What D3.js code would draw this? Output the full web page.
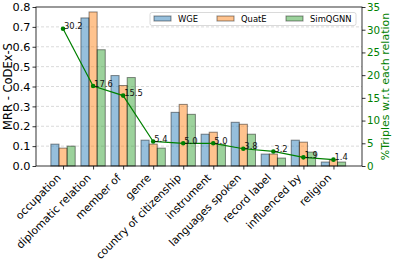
<!DOCTYPE html>
<html>
<head>
<meta charset="utf-8">
<script src="https://cdn.jsdelivr.net/npm/d3@7"></script>
<style>
  body { margin: 0; background: #fff; }
  svg { display: block; font-family: "DejaVu Sans", sans-serif; }
</style>
</head>
<body>
<div id="chart"></div>
<script>
// Relations (x axis)
const relations = ["occupation", "diplomatic relation", "member of", "genre",
  "country of citizenship", "instrument", "languages spoken", "record label",
  "influenced by", "religion"];

// MRR per model
const wge = [0.11, 0.745, 0.455, 0.13, 0.27, 0.16, 0.22, 0.06, 0.13, 0.02];
const quate = [0.09, 0.775, 0.405, 0.11, 0.31, 0.17, 0.21, 0.06, 0.12, 0.03];
const simqgnn = [0.10, 0.585, 0.445, 0.09, 0.26, 0.11, 0.16, 0.04, 0.07, 0.02];

// % of triples for each relation (right axis)
const triples = [30.2, 17.6, 15.5, 5.4, 5.0, 5.0, 3.8, 3.2, 1.9, 1.4];

const leftTicks = [0.0, 0.1, 0.2, 0.3, 0.4, 0.5, 0.6, 0.7, 0.8];
const rightTicks = [0, 5, 10, 15, 20, 25, 30, 35];

const models = [
  { name: "WGE", values: wge, color: "#1f77b4" },
  { name: "QuatE", values: quate, color: "#ff7f0e" },
  { name: "SimQGNN", values: simqgnn, color: "#2ca02c" }
];

// Layout
const width = 394;
const height = 262;
const plot_left = 36, plot_right = 362, plot_top = 7, plot_bottom = 166;
const bar_width = 0.27;
const tick_len = 3.5;

const x = d3.scaleLinear().domain([-0.9, 9.95]).range([plot_left, plot_right]);
const y = d3.scaleLinear().domain([0, 0.8]).range([plot_bottom, plot_top]);
const y2 = d3.scaleLinear().domain([0, 35]).range([plot_bottom, plot_top]);

const svg = d3.select("#chart").append("svg")
  .attr("width", width)
  .attr("height", height)
  .attr("viewBox", [0, 0, width, height]);

// Grid lines (left axis)
svg.append("g")
  .selectAll("line")
  .data(leftTicks.slice(1, -1))
  .join("line")
  .attr("x1", plot_left).attr("x2", plot_right)
  .attr("y1", d => y(d)).attr("y2", d => y(d))
  .attr("stroke", "#b0b0b0")
  .attr("stroke-opacity", 0.6)
  .attr("stroke-width", 0.8)
  .attr("stroke-dasharray", "3,2");

// Bars
models.forEach((m, k) => {
  svg.append("g")
    .selectAll("rect")
    .data(m.values)
    .join("rect")
    .attr("x", (d, i) => x(i + (k - 1) * bar_width - bar_width / 2))
    .attr("width", x(bar_width) - x(0))
    .attr("y", d => y(d))
    .attr("height", d => y(0) - y(d))
    .attr("fill", m.color)
    .attr("fill-opacity", 0.47)
    .attr("stroke", "#000")
    .attr("stroke-opacity", 0.45)
    .attr("stroke-width", 1);
});

// Frame
svg.append("rect")
  .attr("x", plot_left).attr("y", plot_top)
  .attr("width", plot_right - plot_left).attr("height", plot_bottom - plot_top)
  .attr("fill", "none")
  .attr("stroke", "#000")
  .attr("stroke-width", 0.8);

// Left axis
const yAxis = svg.append("g")
  .attr("transform", `translate(${plot_left},0)`)
  .call(d3.axisLeft(y).tickValues(leftTicks).tickFormat(d3.format(".1f"))
    .tickSize(tick_len).tickPadding(2));
yAxis.select(".domain").remove();
yAxis.selectAll("text").attr("font-size", 11.3).attr("fill", "#000")
  .attr("font-family", "DejaVu Sans");
yAxis.selectAll("line").attr("stroke-width", 0.8);

// Right axis
const y2Axis = svg.append("g")
  .attr("transform", `translate(${plot_right},0)`)
  .call(d3.axisRight(y2).tickValues(rightTicks).tickSize(tick_len).tickPadding(1.5));
y2Axis.select(".domain").remove();
y2Axis.selectAll("text").attr("font-size", 10.3).attr("fill", "green")
  .attr("font-family", "DejaVu Sans");
y2Axis.selectAll("line").attr("stroke-width", 0.8);

// Bottom axis
const xAxis = svg.append("g")
  .attr("transform", `translate(0,${plot_bottom})`)
  .call(d3.axisBottom(x).tickValues(d3.range(relations.length))
    .tickFormat(i => relations[i]).tickSize(tick_len));
xAxis.select(".domain").remove();
xAxis.selectAll("line").attr("stroke-width", 0.8);
xAxis.selectAll("text")
  .attr("font-size", 10.7)
  .attr("font-family", "DejaVu Sans")
  .attr("fill", "#000")
  .attr("text-anchor", "end")
  .attr("dy", null)
  .attr("y", null)
  .attr("transform", "translate(-2,12.5) rotate(-45)");

// Axis titles
svg.append("text")
  .attr("transform", `translate(12,${(plot_top + plot_bottom) / 2}) rotate(-90)`)
  .attr("text-anchor", "middle")
  .attr("font-size", 11.5)
  .text("MRR - CoDEx-S");

svg.append("text")
  .attr("transform", `translate(388.5,${(plot_top + plot_bottom) / 2}) rotate(-90)`)
  .attr("text-anchor", "middle")
  .attr("font-size", 11)
  .attr("fill", "green")
  .text("%Triples w.r.t each relation");

// Triples line
const line = d3.line()
  .x((d, i) => x(i))
  .y(d => y2(d));

svg.append("path")
  .datum(triples)
  .attr("d", line)
  .attr("fill", "none")
  .attr("stroke", "green")
  .attr("stroke-width", 1.2);

svg.append("g")
  .selectAll("circle")
  .data(triples)
  .join("circle")
  .attr("cx", (d, i) => x(i))
  .attr("cy", d => y2(d))
  .attr("r", 2.3)
  .attr("fill", "green");

svg.append("g")
  .selectAll("text")
  .data(triples)
  .join("text")
  .attr("x", (d, i) => x(i) + 1)
  .attr("y", d => y2(d) + 0.5)
  .attr("font-size", 8.4)
  .attr("fill", "#111")
  .text(d => d.toFixed(1));

// Legend
const legend = svg.append("g");
legend.append("rect")
  .attr("x", 150).attr("y", 12.5)
  .attr("width", 206).attr("height", 13)
  .attr("rx", 2)
  .attr("fill", "#fff")
  .attr("fill-opacity", 0.8)
  .attr("stroke", "#d0d0d0")
  .attr("stroke-width", 0.8);

const legend_x = [154, 217, 286];
models.forEach((m, k) => {
  legend.append("rect")
    .attr("x", legend_x[k]).attr("y", 16)
    .attr("width", 17).attr("height", 5)
    .attr("fill", m.color)
    .attr("fill-opacity", 0.47)
    .attr("stroke", "#000")
    .attr("stroke-opacity", 0.45)
    .attr("stroke-width", 1);
  legend.append("text")
    .attr("x", legend_x[k] + 24)
    .attr("y", 21.8)
    .attr("font-size", 8.4)
    .text(m.name);
});
</script>
</body>
</html>
